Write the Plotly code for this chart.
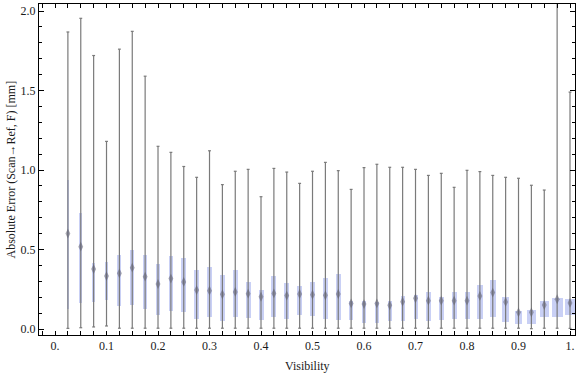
import plotly.graph_objects as go

# ---- data ----
visibility = [round(0.025 * k, 3) for k in range(1, 41)]
q1 = [0.124, 0.166, 0.172, 0.184, 0.147, 0.153, 0.128, 0.088, 0.115, 0.109,
      0.065, 0.075, 0.052, 0.073, 0.071, 0.059, 0.078, 0.065, 0.088, 0.082,
      0.065, 0.059, 0.059, 0.040, 0.040, 0.048, 0.052, 0.061, 0.052, 0.059,
      0.065, 0.065, 0.065, 0.078, 0.046, 0.034, 0.034, 0.078, 0.078, 0.088]
median = [0.600, 0.518, 0.377, 0.333, 0.350, 0.386, 0.329, 0.283, 0.317, 0.296,
          0.245, 0.241, 0.218, 0.233, 0.222, 0.203, 0.224, 0.210, 0.220, 0.216,
          0.212, 0.220, 0.161, 0.157, 0.161, 0.149, 0.172, 0.193, 0.178, 0.178,
          0.178, 0.178, 0.208, 0.229, 0.170, 0.105, 0.105, 0.151, 0.187, 0.164]
q3 = [0.935, 0.728, 0.413, 0.421, 0.465, 0.495, 0.465, 0.409, 0.459, 0.447,
      0.371, 0.390, 0.338, 0.371, 0.296, 0.245, 0.333, 0.287, 0.270, 0.296,
      0.321, 0.346, 0.176, 0.176, 0.170, 0.176, 0.208, 0.214, 0.233, 0.201,
      0.233, 0.233, 0.277, 0.308, 0.200, 0.113, 0.119, 0.176, 0.195, 0.189]
whisker_low = [0.004, 0.008, 0.013, 0.019, 0.005, 0.005, 0.005, 0.005, 0.005, 0.005,
               0.005, 0.005, 0.005, 0.005, 0.005, 0.005, 0.005, 0.005, 0.005, 0.005,
               0.005, 0.005, 0.005, 0.005, 0.005, 0.005, 0.005, 0.005, 0.005, 0.005,
               0.005, 0.005, 0.005, 0.005, 0.005, 0.005, 0.002, 0.005, 0.005, 0.004]
whisker_high = [1.868, 1.954, 1.720, 1.180, 1.760, 1.872, 1.590, 1.149, 1.111, 1.022,
                0.954, 1.121, 0.908, 0.992, 1.004, 0.832, 1.010, 0.987, 0.916, 0.992,
                1.048, 0.996, 0.878, 1.015, 1.036, 1.017, 1.017, 1.004, 0.966, 0.979,
                0.891, 0.998, 0.990, 0.966, 0.954, 0.948, 0.904, 0.874, 2.600, 1.490]
# relative box widths (in Visibility units), reflecting sample size
box_widths = [0.0023, 0.0058, 0.0058, 0.0072, 0.0078, 0.0078, 0.0083, 0.0091, 0.0091, 0.0103,
              0.0097, 0.0091, 0.0097, 0.0103, 0.0097, 0.0097, 0.0097, 0.0091, 0.0091, 0.0091,
              0.0097, 0.0103, 0.0083, 0.0083, 0.0078, 0.0078, 0.0083, 0.0078, 0.0091, 0.0097,
              0.0097, 0.0097, 0.0130, 0.0122, 0.0122, 0.0142, 0.0175, 0.0175, 0.0214, 0.0185]

x_tickvals = [0.0, 0.1, 0.2, 0.3, 0.4, 0.5, 0.6, 0.7, 0.8, 0.9, 1.0]
x_ticktext = ["0.", "0.1", "0.2", "0.3", "0.4", "0.5", "0.6", "0.7", "0.8", "0.9", "1."]
y_tickvals = [0.0, 0.5, 1.0, 1.5, 2.0]
y_ticktext = ["0.0", "0.5", "1.0", "1.5", "2.0"]

# ---- build whiskers with caps ----
cap = 0.0028
wx, wy = [], []
for x, lo, hi in zip(visibility, whisker_low, whisker_high):
    wx += [x, x, None, x - cap, x + cap, None, x - cap, x + cap, None]
    wy += [lo, hi, None, lo, lo, None, hi, hi, None]

fig = go.Figure()
fig.add_trace(go.Scatter(x=wx, y=wy, mode="lines",
                         line=dict(color="#7a7a7a", width=1.2),
                         hoverinfo="skip", showlegend=False))
fig.add_trace(go.Bar(x=visibility,
                     y=[b - a for a, b in zip(q1, q3)],
                     base=q1, width=box_widths,
                     marker=dict(color="#c9d0f5", line=dict(width=0)),
                     showlegend=False))
fig.add_trace(go.Scatter(x=visibility, y=median, mode="markers",
                         marker=dict(symbol="diamond-tall", size=7,
                                     color="rgba(95,95,110,0.55)",
                                     line=dict(width=0)),
                         showlegend=False, cliponaxis=True))

font = dict(family="Liberation Serif, Times New Roman, serif", size=12, color="#1a1a1a")
fig.update_layout(
    width=576, height=375,
    margin=dict(l=39, r=1, t=4, b=40, autoexpand=False),
    paper_bgcolor="white", plot_bgcolor="white",
    font=font, barmode="overlay", bargap=0,
    xaxis=dict(range=[-0.0311, 1.0097], tickvals=x_tickvals, ticktext=x_ticktext,
               ticks="inside", ticklen=4, tickcolor="black", tickwidth=1,
               minor=dict(dtick=0.025, tick0=0, ticks="inside", ticklen=4,
                          tickcolor="black", tickwidth=1),
               showline=True, linecolor="black", linewidth=1, mirror="ticks",
               showgrid=False, zeroline=False, automargin=False),
    yaxis=dict(range=[-0.0377, 2.044], tickvals=y_tickvals, ticktext=y_ticktext,
               ticks="inside", ticklen=5, tickcolor="black", tickwidth=1,
               minor=dict(dtick=0.1, tick0=0, ticks="inside", ticklen=3,
                          tickcolor="black", tickwidth=1),
               showline=True, linecolor="black", linewidth=1, mirror="ticks",
               showgrid=False, zeroline=False, automargin=False),
    annotations=[
        dict(text="Visibility", xref="paper", yref="paper", x=0.5, y=-31 / 331,
             xanchor="center", yanchor="middle", showarrow=False, font=font),
        dict(text="Absolute Error (Scan\u2192Ref, F) [mm]", xref="paper", yref="paper",
             x=-29 / 536, y=0.5, xanchor="center", yanchor="middle", textangle=-90,
             showarrow=False, font=font),
    ],
)

fig.write_html("out.html", config={"displayModeBar": False},
               post_script="document.body.style.margin='0';document.body.style.padding='0';")
